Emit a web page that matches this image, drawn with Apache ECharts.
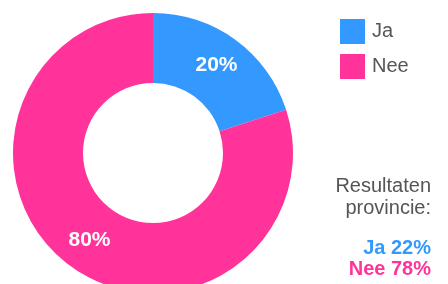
<!DOCTYPE html>
<html><head><meta charset="utf-8">
<script src="https://cdn.jsdelivr.net/npm/echarts@6/dist/echarts.min.js"></script>
<style>html,body{margin:0;padding:0;background:#fff}#c{width:448px;height:284px}</style>
</head><body><div id="c"></div>
<script>
const categories = ['Ja', 'Nee'];
const values = [20, 80];
const colors = ['#3399ff', '#ff3399'];
const provinceLabel = ['Resultaten', 'provincie:'];
const provinceResults = ['Ja 22%', 'Nee 78%'];

const chart = echarts.init(document.getElementById('c'));
const FONT = 'Liberation Sans, Arial, sans-serif';
const txt = (t, y, font, fill) => ({ type: 'text', x: 431, y: y, style: { text: t, font: font, fill: fill, textAlign: 'right', textVerticalAlign: 'middle' } });
chart.setOption({
  animation: false,
  color: colors,
  legend: {
    orient: 'vertical', left: 335, top: 14,
    itemWidth: 25, itemHeight: 25, itemGap: 10,
    icon: 'rect',
    textStyle: { fontSize: 20, color: '#555', fontFamily: FONT, padding: [0,0,0,2] },
    data: categories
  },
  series: [{
    type: 'pie', center: [153, 153], radius: [70, 140],
    startAngle: 90, clockwise: true,
    label: { position: 'inside', formatter: '{d}%', color: '#fff', fontWeight: 'bold', fontSize: 21, fontFamily: FONT },
    labelLine: { show: false },
    itemStyle: { borderWidth: 0 },
    emphasis: { disabled: true },
    data: categories.map((c, i) => ({ name: c, value: values[i] }))
  }],
  graphic: [
    txt(provinceLabel[0], 186, '20px ' + FONT, '#555'),
    txt(provinceLabel[1], 208, '20px ' + FONT, '#555'),
    txt(provinceResults[0], 248, 'bold 20px ' + FONT, colors[0]),
    txt(provinceResults[1], 269, 'bold 20px ' + FONT, colors[1])
  ]
});
</script></body></html>
